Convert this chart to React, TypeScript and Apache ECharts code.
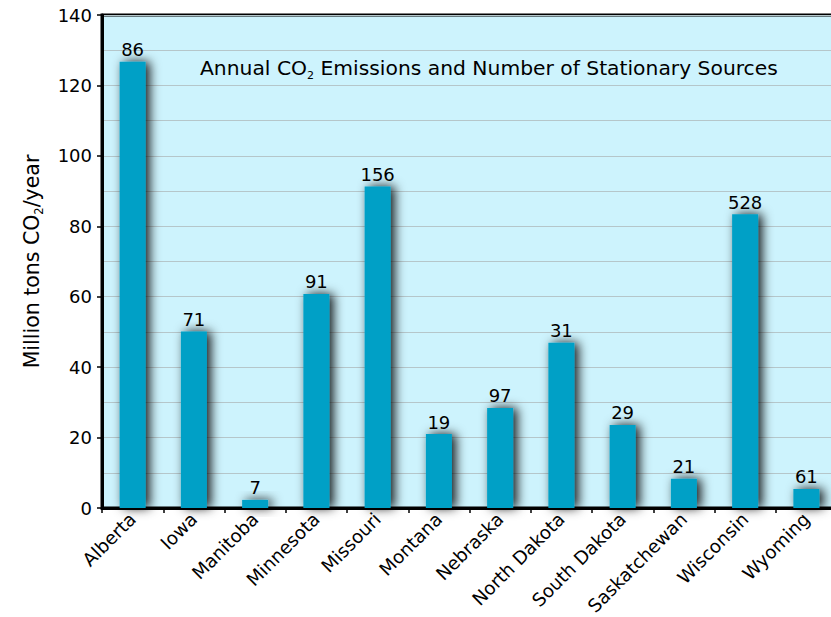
import React, { useEffect, useRef } from "react";
import * as echarts from "echarts";

const categories = ["Alberta", "Iowa", "Manitoba", "Minnesota", "Missouri", "Montana", "Nebraska", "North Dakota", "South Dakota", "Saskatchewan", "Wisconsin", "Wyoming"];
const emissions = [126.7, 50.1, 2.3, 60.8, 91.3, 21, 28.4, 46.9, 23.6, 8.3, 83.4, 5.4];
const sourceCounts = [86, 71, 7, 91, 156, 19, 97, 31, 29, 21, 528, 61];
const yTicks = [0, 20, 40, 60, 80, 100, 120, 140];

const FONT = "'DejaVu Sans', Verdana, sans-serif";

export default function App() {
  const ref = useRef<HTMLDivElement>(null);
  useEffect(() => {
    if (!ref.current) return;
    const chart = echarts.init(ref.current, null, { renderer: "svg" });
    chart.setOption({
      animation: false,
      backgroundColor: "#ffffff",
      textStyle: { fontFamily: FONT },
      grid: {
        left: 102,
        top: 15,
        bottom: 109,
        right: -6,
        outerBoundsMode: "none",
        containLabel: false,
        show: true,
        backgroundColor: "#cdf3fd",
        borderColor: "#000000",
        borderWidth: 3,
      },
      graphic: [
        {
          type: "text",
          left: 200,
          top: 58,
          style: {
            text: "{a|Annual CO}{s|2}{a| Emissions and Number of Stationary Sources}",
            fontFamily: FONT,
            rich: {
              a: { fontSize: 20.3, fontFamily: FONT, fill: "#000", lineHeight: 24, verticalAlign: "bottom" },
              s: { fontSize: 11, fontFamily: FONT, fill: "#000", lineHeight: 24, verticalAlign: "bottom", padding: [0, 0, -3, 0] },
            },
          },
        },
      ],
      xAxis: {
        type: "category",
        data: categories,
        axisLine: { lineStyle: { color: "#000", width: 3 } },
        axisTick: { show: true, length: 5, lineStyle: { color: "#000", width: 1.5 } },
        axisLabel: { rotate: 45, fontSize: 18.3, color: "#000", fontFamily: FONT, margin: 8, interval: 0 },
      },
      yAxis: {
        type: "value",
        min: yTicks[0],
        max: yTicks[yTicks.length - 1],
        interval: 20,
        name: "{a|Million tons CO}{s|2}{a|/year}",
        nameLocation: "middle",
        nameGap: 60,
        nameTextStyle: {
          rich: {
            a: { fontSize: 20.5, fontFamily: FONT, color: "#000", lineHeight: 24, verticalAlign: "bottom" },
            s: { fontSize: 11.5, fontFamily: FONT, color: "#000", lineHeight: 24, verticalAlign: "bottom", padding: [0, 0, -3, 0] },
          },
        },
        axisLine: { show: true, lineStyle: { color: "#000", width: 3 } },
        axisTick: { show: true, length: 5, lineStyle: { color: "#000", width: 1.5 } },
        axisLabel: { fontSize: 18, color: "#000", fontFamily: FONT, margin: 10 },
        splitLine: { show: true, lineStyle: { color: "#b5c6ca", width: 1 } },
        minorTick: { show: false, splitNumber: 2 },
        minorSplitLine: { show: true, lineStyle: { color: "#b5c6ca", width: 1 } },
      },
      series: [
        {
          type: "bar",
          data: emissions,
          barWidth: 26,
          itemStyle: {
            color: "#00a0c6",
            shadowColor: "rgba(0,0,0,0.9)",
            shadowBlur: 11,
            shadowOffsetX: 4,
            shadowOffsetY: 0,
          },
          label: {
            show: true,
            position: "top",
            distance: 3,
            fontSize: 18,
            color: "#000",
            fontFamily: FONT,
            formatter: (p: any) => String(sourceCounts[p.dataIndex]),
          },
        },
      ],
    });
    return () => chart.dispose();
  }, []);
  return (
    <div
      ref={ref}
      style={{ position: "absolute", left: 0, top: 0, width: 831, height: 617 }}
    />
  );
}
